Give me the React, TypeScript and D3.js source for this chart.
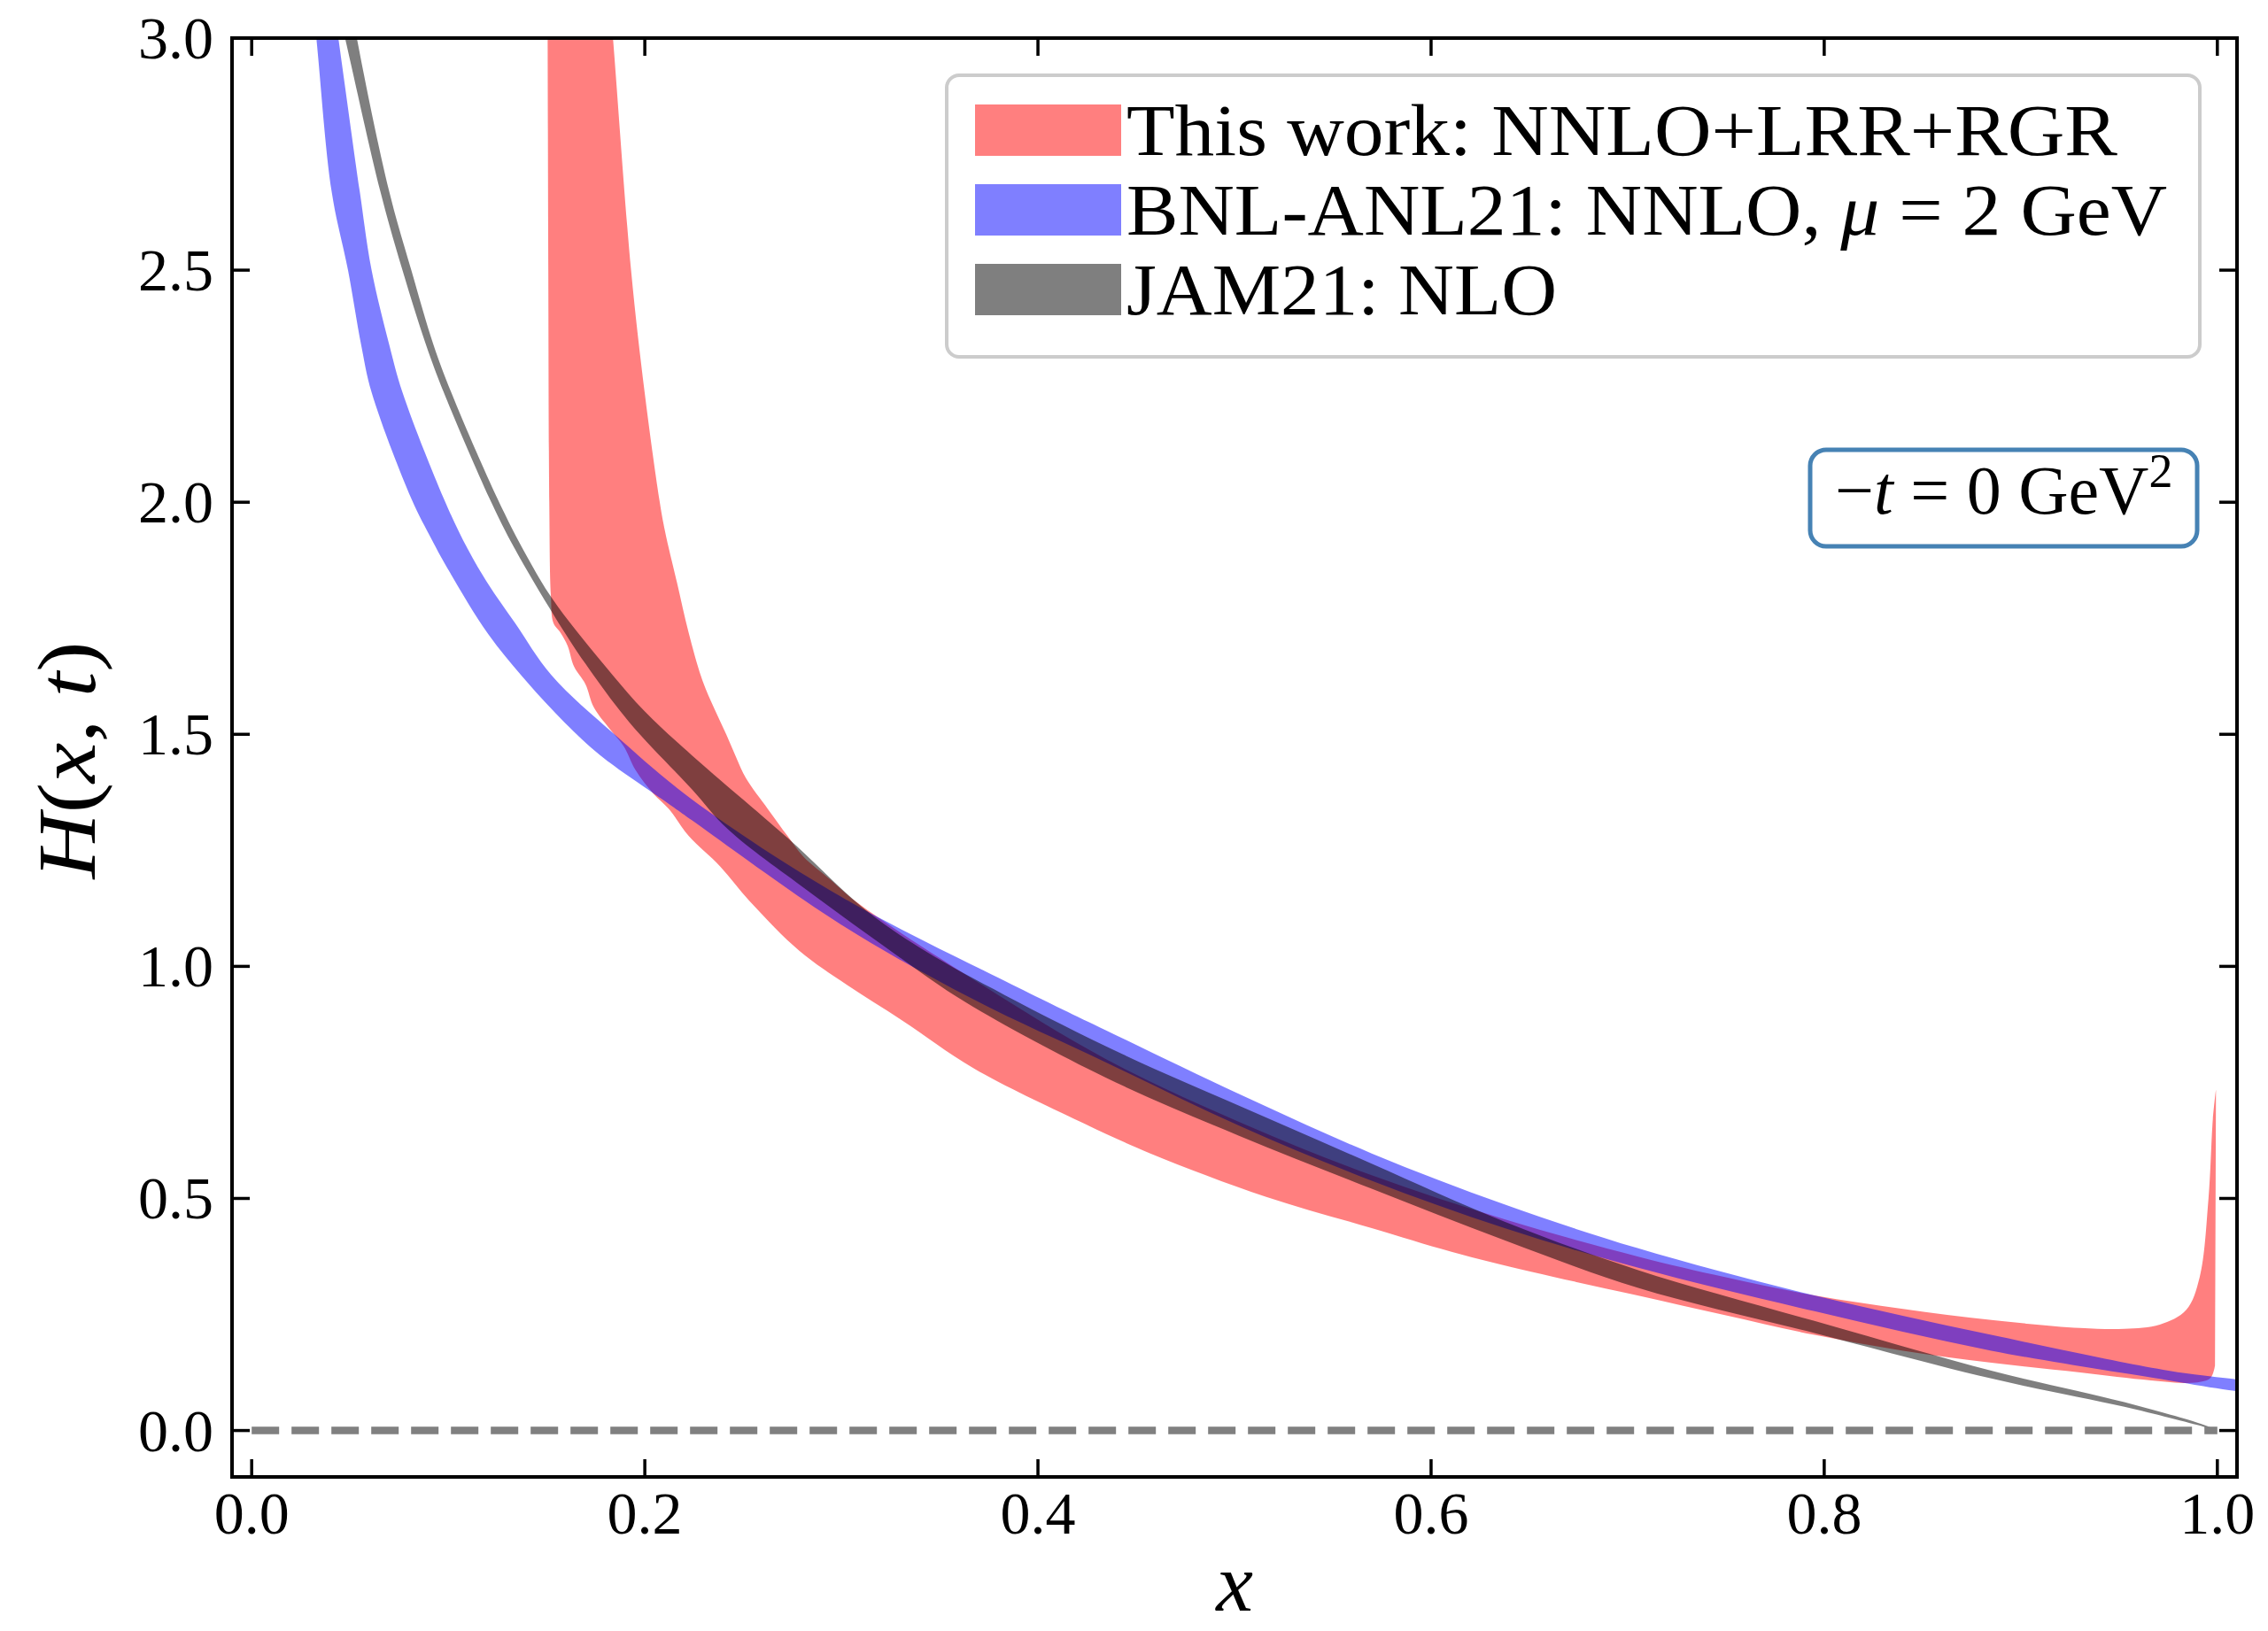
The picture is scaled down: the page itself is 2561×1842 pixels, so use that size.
import React from 'react';
import * as d3 from 'd3';

type Pt = [number, number];

// "This work: NNLO+LRR+RGR" band (upper and lower edges, x vs H)
const redUpper: Pt[] = [
  [0.179, 3.25], [0.1838, 3.0], [0.193, 2.5], [0.1999, 2.237], [0.2073, 2.008], [0.2103, 1.937],
  [0.2163, 1.828], [0.2223, 1.719], [0.2294, 1.615], [0.2354, 1.555], [0.2414, 1.5], [0.2465, 1.45],
  [0.2515, 1.405], [0.2626, 1.339], [0.2726, 1.281], [0.2806, 1.237], [0.2947, 1.186], [0.3088, 1.135],
  [0.3716, 0.96], [0.4347, 0.8], [0.5023, 0.665], [0.5698, 0.55], [0.6374, 0.455], [0.705, 0.375],
  [0.75, 0.33], [0.795, 0.291], [0.8401, 0.262], [0.8851, 0.238], [0.9302, 0.221], [0.9527, 0.219],
  [0.9707, 0.228], [0.9842, 0.26], [0.991, 0.33], [0.9955, 0.5], [0.9977, 0.67], [0.9993, 0.735],
];
const redLower: Pt[] = [
  [0.1504, 3.25], [0.1507, 2.8], [0.1509, 2.5], [0.1514, 2.0], [0.1522, 1.8], [0.1535, 1.74],
  [0.1571, 1.719], [0.1608, 1.69], [0.164, 1.646], [0.1698, 1.608], [0.1741, 1.558], [0.1833, 1.506],
  [0.1893, 1.474], [0.1953, 1.423], [0.2044, 1.372], [0.2123, 1.339], [0.2223, 1.281], [0.2384, 1.215],
  [0.2545, 1.135], [0.2787, 1.033], [0.3028, 0.96], [0.3311, 0.883], [0.3671, 0.781], [0.4212, 0.666],
  [0.4572, 0.597], [0.5158, 0.504], [0.5698, 0.436], [0.6104, 0.385], [0.6509, 0.342], [0.705, 0.291],
  [0.75, 0.248], [0.795, 0.206], [0.8401, 0.172], [0.8851, 0.146], [0.9302, 0.125], [0.9662, 0.108],
  [0.9887, 0.103], [0.9965, 0.113], [0.9988, 0.14],
];

// BNL-ANL21 band
const blueUpper: Pt[] = [
  [0.036, 3.25], [0.0441, 3.0], [0.055, 2.669], [0.061, 2.5], [0.07, 2.339], [0.0767, 2.237],
  [0.0977, 2.008], [0.1098, 1.9], [0.1203, 1.824], [0.1338, 1.741], [0.1526, 1.627], [0.1848, 1.499],
  [0.2239, 1.36], [0.2995, 1.151], [0.3896, 0.955], [0.4347, 0.862], [0.5023, 0.725], [0.5698, 0.597],
  [0.6374, 0.487], [0.705, 0.393], [0.795, 0.291], [0.885, 0.206], [0.9752, 0.129], [1.0059, 0.112],
  [1.02, 0.104],
];
const blueLower: Pt[] = [
  [0.027, 3.25], [0.0329, 3.0], [0.0407, 2.669], [0.049, 2.5], [0.0557, 2.339], [0.061, 2.237],
  [0.0812, 2.008], [0.0917, 1.919], [0.1008, 1.849], [0.1203, 1.716], [0.1398, 1.614], [0.1593, 1.525],
  [0.1773, 1.455], [0.2089, 1.36], [0.2239, 1.315], [0.2995, 1.091], [0.3671, 0.929], [0.4347, 0.793],
  [0.5023, 0.657], [0.5698, 0.538], [0.6374, 0.436], [0.705, 0.351], [0.795, 0.257], [0.885, 0.172],
  [0.9752, 0.108], [1.0059, 0.087], [1.02, 0.08],
];

// JAM21 band
const jamUpper: Pt[] = [
  [0.0435, 3.25], [0.0535, 3.0], [0.07, 2.669], [0.0812, 2.5], [0.0925, 2.339], [0.1015, 2.237],
  [0.125, 2.008], [0.1398, 1.885], [0.1533, 1.79], [0.1773, 1.66], [0.1998, 1.55], [0.2239, 1.455],
  [0.2726, 1.277], [0.3128, 1.12], [0.343, 1.032], [0.3832, 0.938], [0.4435, 0.81], [0.5023, 0.7],
  [0.5698, 0.575], [0.6374, 0.45], [0.705, 0.346], [0.795, 0.236], [0.885, 0.129], [0.9527, 0.061],
  [0.9932, 0.012], [1.0, 0.0],
];
const jamLower: Pt[] = [
  [0.034, 3.25], [0.0475, 3.0], [0.0655, 2.669], [0.0767, 2.5], [0.0887, 2.339], [0.0977, 2.237],
  [0.121, 2.008], [0.1338, 1.9], [0.1541, 1.754], [0.1698, 1.652], [0.1923, 1.525], [0.2239, 1.382],
  [0.2424, 1.295], [0.2826, 1.164], [0.3229, 1.04], [0.3631, 0.923], [0.4347, 0.76], [0.5023, 0.635],
  [0.5698, 0.521], [0.6374, 0.41], [0.705, 0.308], [0.795, 0.21], [0.885, 0.112], [0.9527, 0.051],
  [0.9932, 0.008], [1.0, 0.0],
];

const xTicks = [0, 0.2, 0.4, 0.6, 0.8, 1.0];
const yTicks = [0, 0.5, 1.0, 1.5, 2.0, 2.5, 3.0];
const xDomain: [number, number] = [-0.01, 1.01];
const yDomain: [number, number] = [-0.1, 3.0];

const W = 2561;
const H = 1842;
const P = { left: 262, right: 2526, top: 43, bottom: 1668 };
const SERIF = "'Liberation Serif', 'Times New Roman', serif";

export default function App() {
  const x = d3.scaleLinear().domain(xDomain).range([P.left, P.right]);
  const y = d3.scaleLinear().domain(yDomain).range([P.bottom, P.top]);
  const line = d3
    .line<Pt>()
    .x((d) => x(d[0]))
    .y((d) => y(d[1]))
    .curve(d3.curveCatmullRom.alpha(0.5));
  const band = (up: Pt[], lo: Pt[]) => {
    const a = line(up) as string;
    const b = line([...lo].reverse()) as string;
    return a + 'L' + b.slice(1) + 'Z';
  };
  const tickLen = 20;

  return (
    <svg
      width={W}
      height={H}
      style={{ position: 'absolute', left: 0, top: 0, background: '#fff' }}
      fontFamily={SERIF}
    >
      <rect x={0} y={0} width={W} height={H} fill="#fff" />
      <defs>
        <clipPath id="plotClip">
          <rect x={P.left} y={P.top} width={P.right - P.left} height={P.bottom - P.top} />
        </clipPath>
      </defs>
      <g clipPath="url(#plotClip)">
        <path d={band(redUpper, redLower)} fill="#ff0000" fillOpacity={0.5} />
        <path d={band(blueUpper, blueLower)} fill="#0000ff" fillOpacity={0.5} />
        <path d={band(jamUpper, jamLower)} fill="#000000" fillOpacity={0.5} />
        <line
          x1={x(0)}
          x2={x(1)}
          y1={y(0)}
          y2={y(0)}
          stroke="#808080"
          strokeWidth={8.5}
          strokeDasharray="31 14"
        />
      </g>

      {/* ticks */}
      {xTicks.map((t) => (
        <g key={'xt' + t} stroke="#000" strokeWidth={3.5}>
          <line x1={x(t)} x2={x(t)} y1={P.bottom} y2={P.bottom - tickLen} />
          <line x1={x(t)} x2={x(t)} y1={P.top} y2={P.top + tickLen} />
        </g>
      ))}
      {yTicks.map((t) => (
        <g key={'yt' + t} stroke="#000" strokeWidth={3.5}>
          <line x1={P.left} x2={P.left + tickLen} y1={y(t)} y2={y(t)} />
          <line x1={P.right} x2={P.right - tickLen} y1={y(t)} y2={y(t)} />
        </g>
      ))}
      <rect
        x={P.left}
        y={P.top}
        width={P.right - P.left}
        height={P.bottom - P.top}
        fill="none"
        stroke="#000"
        strokeWidth={4}
      />

      {/* tick labels */}
      {xTicks.map((t) => (
        <text key={'xl' + t} x={x(t)} y={1732} fontSize={68} textAnchor="middle" fill="#000">
          {t.toFixed(1)}
        </text>
      ))}
      {yTicks.map((t) => (
        <text key={'yl' + t} x={241} y={y(t) + 23} fontSize={68} textAnchor="end" fill="#000">
          {t.toFixed(1)}
        </text>
      ))}

      {/* axis labels */}
      <text x={(P.left + P.right) / 2} y={1819} fontSize={94} fontStyle="italic" textAnchor="middle">
        x
      </text>
      <text
        transform={`translate(107, ${(P.top + P.bottom) / 2 + 3}) rotate(-90)`}
        fontSize={94}
        textAnchor="middle"
        textLength={268}
        lengthAdjust="spacingAndGlyphs"
      >
        <tspan fontStyle="italic">H</tspan>
        <tspan>(</tspan>
        <tspan fontStyle="italic">x</tspan>
        <tspan>, </tspan>
        <tspan fontStyle="italic">t</tspan>
        <tspan>)</tspan>
      </text>

      {/* legend */}
      <rect x={1069} y={85} width={1415} height={318} rx={14} fill="#fff" fillOpacity={0.8} stroke="#cccccc" strokeWidth={4} />
      <rect x={1101} y={118} width={165} height={58} fill="#ff0000" fillOpacity={0.5} />
      <rect x={1101} y={208} width={165} height={58} fill="#0000ff" fillOpacity={0.5} />
      <rect x={1101} y={298} width={165} height={58} fill="#000000" fillOpacity={0.5} />
      <text x={1272} y={175} fontSize={83} textLength={1119} lengthAdjust="spacingAndGlyphs">
        This work: NNLO+LRR+RGR
      </text>
      <text x={1272} y={265} fontSize={83} textLength={1175} lengthAdjust="spacingAndGlyphs">
        <tspan>BNL-ANL21: NNLO, </tspan>
        <tspan fontStyle="italic">μ</tspan>
        <tspan> = 2 GeV</tspan>
      </text>
      <text x={1272} y={355} fontSize={83} textLength={486} lengthAdjust="spacingAndGlyphs">
        JAM21: NLO
      </text>

      {/* annotation box */}
      <rect x={2044} y={508} width={437} height={109} rx={18} fill="#fff" stroke="#4682b4" strokeWidth={5} />
      <text x={2072} y={580} fontSize={78}>
        <tspan>−</tspan>
        <tspan fontStyle="italic">t</tspan>
        <tspan> = 0 GeV</tspan>
        <tspan fontSize={54} dy={-30}>2</tspan>
      </text>
    </svg>
  );
}
